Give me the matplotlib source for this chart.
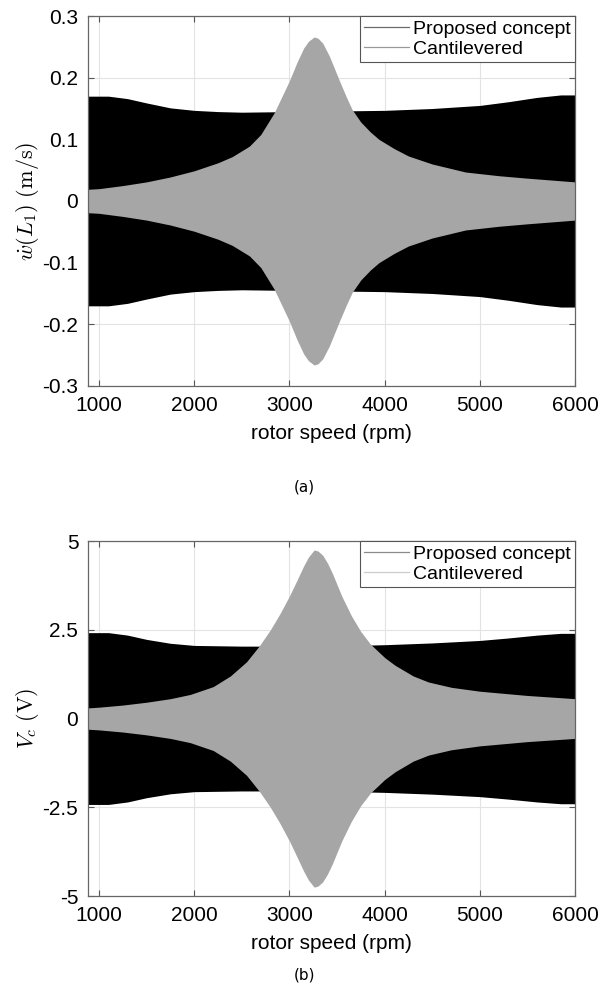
import numpy as np
import matplotlib.pyplot as plt
from matplotlib.lines import Line2D

plt.rcParams['font.family'] = ['Liberation Sans', 'DejaVu Sans']
plt.rcParams['mathtext.fontset'] = 'cm'

# envelope of the tip velocity signal, proposed concept (m/s)
rpm_vel_prop = [885, 1100, 1300, 1500, 1750, 2000, 2250, 2500, 3000, 3500, 4000, 4500, 5000, 5300,
                5600, 5850, 6000]
vel_prop = [0.170, 0.170, 0.166, 0.159, 0.151, 0.147, 0.145, 0.144, 0.145, 0.146, 0.147, 0.150, 0.155,
            0.161, 0.168, 0.172, 0.172]

# envelope of the tip velocity signal, cantilevered (m/s)
rpm_vel_cant = [885, 1000, 1250, 1500, 1750, 2000, 2250, 2400, 2580, 2700, 2840, 3000, 3080, 3150, 3200,
                3260, 3300, 3350, 3420, 3520, 3600, 3660, 3750, 3850, 3940, 4100, 4250, 4500, 4850,
                5200, 5500, 6000]
vel_cant = [0.019, 0.020, 0.025, 0.031, 0.039, 0.049, 0.062, 0.072, 0.089, 0.108, 0.143, 0.195, 0.225,
            0.248, 0.259, 0.266, 0.264, 0.256, 0.235, 0.197, 0.168, 0.148, 0.128, 0.112, 0.100, 0.085,
            0.073, 0.060, 0.047, 0.041, 0.037, 0.031]

# envelope of the harvested voltage, proposed concept (V)
rpm_v_prop = [885, 1100, 1300, 1500, 1750, 2000, 2500, 3000, 3500, 4000, 4500, 5000, 5300, 5600, 5850, 6000]
v_prop = [2.42, 2.42, 2.35, 2.23, 2.12, 2.06, 2.04, 2.04, 2.05, 2.08, 2.13, 2.20, 2.27, 2.35, 2.40, 2.40]

# envelope of the harvested voltage, cantilevered (V)
rpm_v_cant = [885, 1000, 1250, 1500, 1750, 1960, 2200, 2380, 2550, 2690, 2800, 2900, 3000, 3080, 3150,
              3200, 3260, 3300, 3350, 3400, 3450, 3550, 3650, 3750, 3850, 4000, 4110, 4300, 4460, 4700,
              5000, 5500, 6000]
v_cant = [0.30, 0.32, 0.38, 0.46, 0.56, 0.68, 0.90, 1.20, 1.60, 2.07, 2.50, 2.95, 3.45, 3.90, 4.30,
          4.55, 4.75, 4.72, 4.60, 4.38, 4.10, 3.45, 2.90, 2.45, 2.10, 1.72, 1.50, 1.20, 1.03, 0.88,
          0.77, 0.65, 0.56]

xticks = [1000, 2000, 3000, 4000, 5000, 6000]
yticks_vel = [-0.3, -0.2, -0.1, 0, 0.1, 0.2, 0.3]
yticks_v = [-5, -2.5, 0, 2.5, 5]

black = '#000000'
grey = '#a6a6a6'


def style_axes(ax):
    ax.set_xlim(885, 6000)
    ax.set_xticks(xticks)
    ax.set_axisbelow(True)
    ax.grid(True, color='#e3e3e3', linewidth=0.8)
    ax.tick_params(direction='in', length=4, width=0.8, color='#555555', labelsize=15,
                   top=True, right=True, pad=7)
    for s in ax.spines.values():
        s.set_color('#666666')
        s.set_linewidth(0.9)
    ax.set_xlabel('rotor speed (rpm)', fontsize=15, labelpad=7)


fig = plt.figure(figsize=(6, 10.07), dpi=100)

# (a) tip velocity
ax1 = fig.add_axes([0.1467, 0.6167, 0.8117, 0.3674])
x = np.array(rpm_vel_prop)
y = np.array(vel_prop)
ax1.fill_between(x, -y, y, color=black, linewidth=0)
x = np.array(rpm_vel_cant)
y = np.array(vel_cant)
ax1.fill_between(x, -y, y, color=grey, linewidth=0)
ax1.set_ylim(-0.3, 0.3)
ax1.set_yticks(yticks_vel)
ax1.set_yticklabels(['-0.3', '-0.2', '-0.1', '0', '0.1', '0.2', '0.3'])
style_axes(ax1)
ax1.set_ylabel(r'$\dot{w}(L_1)\ \mathrm{(m/s)}$', fontsize=16, labelpad=1)
h = [Line2D([], [], color='#6a6a6a', lw=0.9), Line2D([], [], color='#9a9a9a', lw=0.9)]
leg = ax1.legend(h, ['Proposed concept', 'Cantilevered'], loc='upper right', fontsize=14,
                 borderaxespad=0, fancybox=False, framealpha=1, handlelength=2.3,
                 handletextpad=0.25, labelspacing=0.15, borderpad=0.2)
leg.get_frame().set_edgecolor('#555555')
leg.get_frame().set_linewidth(0.8)

# (b) harvested voltage
ax2 = fig.add_axes([0.1467, 0.1102, 0.8117, 0.3525])
x = np.array(rpm_v_prop)
y = np.array(v_prop)
ax2.fill_between(x, -y, y, color=black, linewidth=0)
x = np.array(rpm_v_cant)
y = np.array(v_cant)
ax2.fill_between(x, -y, y, color=grey, linewidth=0)
ax2.set_ylim(-5, 5)
ax2.set_yticks(yticks_v)
ax2.set_yticklabels(['-5', '-2.5', '0', '2.5', '5'])
style_axes(ax2)
ax2.set_ylabel(r'$V_c\ \mathrm{(V)}$', fontsize=16, labelpad=1)
h = [Line2D([], [], color='#8a8a8a', lw=0.9), Line2D([], [], color='#cccccc', lw=0.9)]
leg = ax2.legend(h, ['Proposed concept', 'Cantilevered'], loc='upper right', fontsize=14,
                 borderaxespad=0, fancybox=False, framealpha=1, handlelength=2.3,
                 handletextpad=0.25, labelspacing=0.15, borderpad=0.2)
leg.get_frame().set_edgecolor('#555555')
leg.get_frame().set_linewidth(0.8)

fig.text(0.508, 1 - 487 / 1007, '(a)', ha='center', va='center', fontsize=11, family='DejaVu Sans')
fig.text(0.508, 1 - 975 / 1007, '(b)', ha='center', va='center', fontsize=11, family='DejaVu Sans')

fig.savefig('out.png', dpi=100)
